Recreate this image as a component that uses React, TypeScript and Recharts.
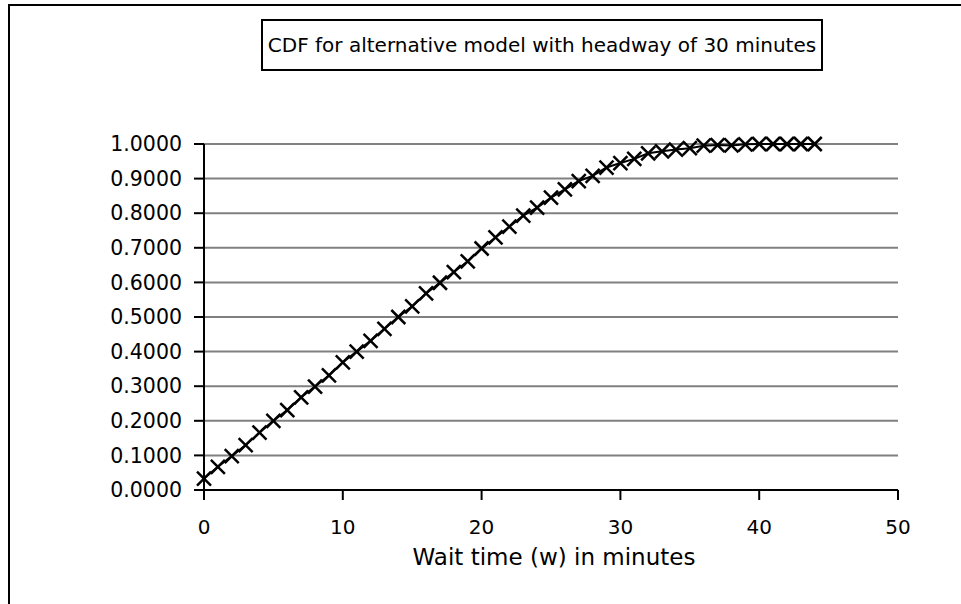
import React from "react";
import { LineChart, Line, XAxis, YAxis, CartesianGrid } from "recharts";

const waitMinutes = [
  0, 1, 2, 3, 4, 5, 6, 7, 8, 9, 10, 11, 12, 13, 14, 15, 16, 17, 18, 19, 20, 21,
  22, 23, 24, 25, 26, 27, 28, 29, 30, 31, 32, 33, 34, 35, 36, 37, 38, 39, 40, 41,
  42, 43, 44,
];
const cdfValues = [
  0.033, 0.067, 0.098, 0.13, 0.166, 0.2, 0.231, 0.268, 0.299, 0.331, 0.369,
  0.4, 0.431, 0.466, 0.5, 0.531, 0.568, 0.599, 0.63, 0.661, 0.698, 0.73, 0.761,
  0.793, 0.816, 0.845, 0.869, 0.893, 0.908, 0.932, 0.945, 0.957, 0.973, 0.979,
  0.984, 0.988, 0.995, 0.997, 0.996, 0.999, 1.0, 1.0, 1.0, 1.0, 1.0,
];
const xTicks = [0, 10, 20, 30, 40, 50];
const yTicks = [0, 0.1, 0.2, 0.3, 0.4, 0.5, 0.6, 0.7, 0.8, 0.9, 1.0];
const titleText = "CDF for alternative model with headway of 30 minutes";
const xAxisTitle = "Wait time (w) in minutes";

const data = waitMinutes.map((w, i) => ({ w, p: cdfValues[i] }));

const FONT = "'DejaVu Sans', Verdana, sans-serif";

const XMark = (props: any) => {
  const { cx, cy } = props;
  if (cx == null || cy == null) return null;
  const r = 7;
  return (
    <g>
      <line x1={cx - r} y1={cy - r} x2={cx + r} y2={cy + r} stroke="#000" strokeWidth={2.5} />
      <line x1={cx - r} y1={cy + r} x2={cx + r} y2={cy - r} stroke="#000" strokeWidth={2.5} />
    </g>
  );
};

export default function App() {
  return (
    <div
      style={{
        position: "absolute",
        left: 0,
        top: 0,
        width: 961,
        height: 604,
        overflow: "hidden",
        background: "#fff",
        fontFamily: FONT,
      }}
    >
      <div
        style={{
          position: "absolute",
          left: 8,
          top: 4,
          width: 1100,
          height: 1100,
          border: "2px solid #000",
        }}
      />
      <div style={{ position: "absolute", left: 0, top: 0 }}>
        <LineChart
          width={961}
          height={604}
          data={data}
          margin={{ top: 144, right: 63, bottom: 74, left: 104 }}
        >
          <CartesianGrid vertical={false} stroke="#808080" strokeWidth={2} />
          <XAxis
            dataKey="w"
            type="number"
            domain={[0, 50]}
            ticks={xTicks}
            height={40}
            tickSize={10}
            tickMargin={20}
            axisLine={{ stroke: "#000", strokeWidth: 2 }}
            tickLine={{ stroke: "#000", strokeWidth: 2 }}
            tick={{ fill: "#000", fontSize: 20, fontFamily: FONT }}
            interval={0}
          />
          <YAxis
            type="number"
            domain={[0, 1]}
            ticks={yTicks}
            width={100}
            tickSize={10}
            tickMargin={12}
            axisLine={{ stroke: "#000", strokeWidth: 2 }}
            tickLine={{ stroke: "#000", strokeWidth: 2 }}
            tick={{ fill: "#000", fontSize: 20.5, fontFamily: FONT }}
            tickFormatter={(v: number) => v.toFixed(4)}
            interval={0}
          />
          <Line
            type="linear"
            dataKey="p"
            stroke="#000"
            strokeWidth={2}
            dot={<XMark />}
            activeDot={false}
            isAnimationActive={false}
          />
        </LineChart>
      </div>
      <div
        style={{
          position: "absolute",
          left: 261,
          top: 19,
          width: 562,
          height: 52,
          boxSizing: "border-box",
          border: "2px solid #000",
          display: "flex",
          alignItems: "center",
          justifyContent: "center",
          fontSize: 20,
          color: "#000",
          whiteSpace: "nowrap",
        }}
      >
        {titleText}
      </div>
      <div
        style={{
          position: "absolute",
          left: 304,
          width: 500,
          top: 544,
          textAlign: "center",
          fontSize: 23,
          color: "#000",
          whiteSpace: "nowrap",
        }}
      >
        {xAxisTitle}
      </div>
    </div>
  );
}
